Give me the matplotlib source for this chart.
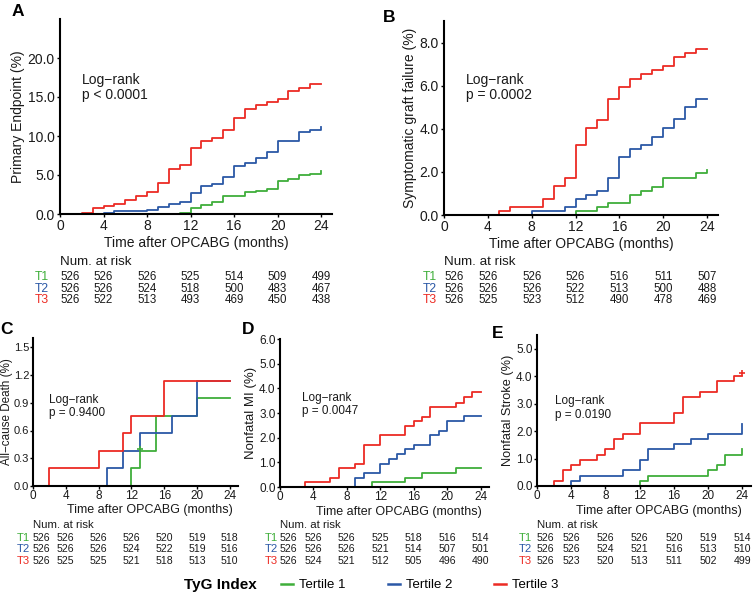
import matplotlib
matplotlib.use("Agg")
import matplotlib.pyplot as plt
from matplotlib.lines import Line2D
from matplotlib.transforms import blended_transform_factory

plt.rcParams['font.family'] = ['Liberation Sans', 'DejaVu Sans']

GREEN = '#3fae3a'
BLUE = '#2b58a6'
RED = '#ec2b24'
TXT = '#1a1a1a'

months = [0, 4, 8, 12, 16, 20, 24]
groups = ['T1', 'T2', 'T3']
legend_labels = ['Tertile 1', 'Tertile 2', 'Tertile 3']

# ---- A: primary endpoint (%)
a_t1_t = [0, 11, 12, 13, 14, 15, 17, 18, 19, 20, 21, 22, 23, 24]
a_t1_y = [0, 0.19, 0.77, 1.2, 1.6, 2.3, 2.8, 3.0, 3.2, 4.2, 4.5, 4.95, 5.15, 5.45]
a_t2_t = [0, 4, 5, 8, 9, 10, 11, 12, 13, 14, 15, 16, 17, 18, 19, 20, 21, 22, 23, 24]
a_t2_y = [0, 0.19, 0.35, 0.55, 0.9, 1.3, 1.55, 2.7, 3.65, 3.9, 4.7, 6.1, 6.5, 7.2, 8.0, 9.3, 9.4, 10.5, 10.8, 11.1]
a_t3_t = [0, 2, 3, 4, 5, 6, 7, 8, 9, 10, 11, 12, 13, 14, 15, 16, 17, 18, 19, 20, 21, 22, 23, 24]
a_t3_y = [0, 0.19, 0.77, 1.0, 1.3, 1.75, 2.3, 2.8, 4.0, 5.75, 6.3, 8.5, 9.3, 9.7, 10.8, 12.3, 13.4, 14.0,
          14.4, 14.8, 15.8, 16.2, 16.7, 16.7]
a_risk_t1 = [526, 526, 526, 525, 514, 509, 499]
a_risk_t2 = [526, 526, 524, 518, 500, 483, 467]
a_risk_t3 = [526, 522, 513, 493, 469, 450, 438]

# ---- B: symptomatic graft failure (%)
b_t1_t = [0, 12, 14, 15, 17, 18, 19, 20, 23, 24]
b_t1_y = [0, 0.19, 0.39, 0.57, 0.94, 1.13, 1.32, 1.72, 1.94, 2.09]
b_t2_t = [0, 8, 11, 12, 13, 14, 15, 16, 17, 18, 19, 20, 21, 22, 23, 24]
b_t2_y = [0, 0.19, 0.39, 0.76, 0.94, 1.13, 1.72, 2.68, 3.05, 3.27, 3.64, 4.02, 4.44, 5.0, 5.39, 5.39]
b_t3_t = [0, 5, 6, 9, 10, 11, 12, 13, 14, 15, 16, 17, 18, 19, 20, 21, 22, 23, 24]
b_t3_y = [0, 0.19, 0.39, 0.76, 1.35, 1.73, 3.27, 4.04, 4.41, 5.39, 5.96, 6.33, 6.55, 6.73, 6.92, 7.32,
          7.51, 7.72, 7.72]
b_risk_t1 = [526, 526, 526, 526, 516, 511, 507]
b_risk_t2 = [526, 526, 526, 522, 513, 500, 488]
b_risk_t3 = [526, 525, 523, 512, 490, 478, 469]

# ---- C: all-cause death (%)
c_t1_t = [0, 12, 13, 15, 20, 24]
c_t1_y = [0, 0.19, 0.38, 0.76, 0.95, 0.95]
c_t2_t = [0, 9, 11, 13, 17, 20, 24]
c_t2_y = [0, 0.19, 0.38, 0.57, 0.76, 1.14, 1.14]
c_t3_t = [0, 2, 8, 11, 12, 16, 24]
c_t3_y = [0, 0.19, 0.38, 0.57, 0.76, 1.14, 1.14]
c_cens_t1 = ([13], [0.40])
c_risk_t1 = [526, 526, 526, 526, 520, 519, 518]
c_risk_t2 = [526, 526, 526, 524, 522, 519, 516]
c_risk_t3 = [526, 525, 525, 521, 518, 513, 510]

# ---- D: nonfatal MI (%)
d_t1_t = [0, 11, 15, 17, 21, 24]
d_t1_y = [0, 0.19, 0.38, 0.57, 0.76, 0.76]
d_t2_t = [0, 9, 10, 12, 13, 14, 15, 16, 18, 19, 20, 22, 24]
d_t2_y = [0, 0.38, 0.57, 0.95, 1.14, 1.33, 1.53, 1.72, 2.1, 2.29, 2.67, 2.87, 2.87]
d_t3_t = [0, 3, 6, 7, 9, 10, 12, 15, 16, 17, 18, 21, 22, 23, 24]
d_t3_y = [0, 0.19, 0.38, 0.76, 0.95, 1.71, 2.1, 2.47, 2.66, 2.85, 3.23, 3.42, 3.63, 3.85, 3.85]
d_risk_t1 = [526, 526, 526, 525, 518, 516, 514]
d_risk_t2 = [526, 526, 526, 521, 514, 507, 501]
d_risk_t3 = [526, 524, 521, 512, 505, 496, 490]

# ---- E: nonfatal stroke (%)
e_t1_t = [0, 12, 13, 20, 21, 22, 24]
e_t1_y = [0, 0.19, 0.38, 0.57, 0.76, 1.14, 1.33]
e_t2_t = [0, 4, 5, 10, 12, 13, 16, 18, 20, 24]
e_t2_y = [0, 0.19, 0.38, 0.57, 0.95, 1.33, 1.52, 1.72, 1.9, 2.27]
e_t3_t = [0, 2, 3, 4, 5, 7, 8, 9, 10, 12, 16, 17, 19, 21, 23, 24]
e_t3_y = [0, 0.19, 0.57, 0.76, 0.95, 1.14, 1.33, 1.72, 1.9, 2.28, 2.66, 3.25, 3.44, 3.82, 4.01, 4.01]
e_cens_t3 = ([24], [4.1])
e_risk_t1 = [526, 526, 526, 526, 520, 519, 514]
e_risk_t2 = [526, 526, 524, 521, 516, 513, 510]
e_risk_t3 = [526, 523, 520, 513, 511, 502, 499]

W, H = 753, 594
fig = plt.figure(figsize=(W / 100, H / 100), dpi=100)


def px_axes(l, r, b, t):
    return fig.add_axes([l / W, 1 - b / H, (r - l) / W, (b - t) / H])


def km_panel(ax, curves, ylim, yticks, ylabel, fs, letter, letter_xy, note, note_xy):
    for (t, y), col in zip(curves, [GREEN, BLUE, RED]):
        ax.step(t, y, where='post', color=col, lw=1.3, zorder=2)
    ax.set_xlim(0, 25)
    ax.set_ylim(*ylim)
    ax.set_xticks(months)
    ax.set_yticks(yticks)
    ax.set_yticklabels([f'{v:.1f}' for v in yticks])
    for s in ['top', 'right']:
        ax.spines[s].set_visible(False)
    for s in ['left', 'bottom']:
        ax.spines[s].set_linewidth(1.5)
        ax.spines[s].set_zorder(3)
    ax.tick_params(length=2.2, width=1, labelsize=fs, colors='black', labelcolor=TXT, pad=1.5)
    ax.set_ylabel(ylabel, fontsize=fs, color=TXT, labelpad=2)
    ax.set_xlabel('Time after OPCABG (months)', fontsize=fs, color=TXT)
    ax.text(note_xy[0], note_xy[1], 'Log\u2212rank\n' + note, fontsize=fs, color=TXT,
            va='top', ha='left', linespacing=1.15)
    fig.text(letter_xy[0] / W, 1 - letter_xy[1] / H, letter, fontsize=12.5,
             fontweight='bold', ha='left', va='center')


def risk_table(ax, rows, tlabel_right, ys, fs, head_fs):
    tr = blended_transform_factory(ax.transData, fig.transFigure)
    fig.text(ax.get_position().x0, 1 - ys[0] / H, 'Num. at risk', fontsize=head_fs,
             color=TXT, ha='left', va='center')
    for vals, g, col, y in zip(rows, groups, [GREEN, BLUE, RED], ys[1:]):
        fig.text(tlabel_right / W, 1 - y / H, g, fontsize=fs + 0.5, color=col, ha='right', va='center')
        for i, (m, v) in enumerate(zip(months, vals)):
            ax.text(m, 1 - y / H, str(v), transform=tr, fontsize=fs, color=TXT,
                    ha='left' if i == 0 else 'center', va='center', clip_on=False)


# top row
axA = px_axes(60, 332, 214, 19)
km_panel(axA, [(a_t1_t, a_t1_y), (a_t2_t, a_t2_y), (a_t3_t, a_t3_y)], (0, 25),
         [0, 5, 10, 15, 20], 'Primary Endpoint (%)', 10, 'A', (12, 12),
         'p < 0.0001', (2.0, 18.1))
axA.xaxis.labelpad = 2
risk_table(axA, [a_risk_t1, a_risk_t2, a_risk_t3], 49, [262, 277, 288.7, 300.4], 8.3, 9.6)

axB = px_axes(444, 718, 215, 21)
km_panel(axB, [(b_t1_t, b_t1_y), (b_t2_t, b_t2_y), (b_t3_t, b_t3_y)], (0, 9),
         [0, 2, 4, 6, 8], 'Symptomatic graft failure (%)', 10, 'B', (383, 17),
         'p = 0.0002', (2.0, 6.6))
axB.xaxis.labelpad = 2
risk_table(axB, [b_risk_t1, b_risk_t2, b_risk_t3], 437, [262, 277, 288.7, 300.4], 8.3, 9.6)

# bottom row
axC = px_axes(33, 238, 486, 338)
km_panel(axC, [(c_t1_t, c_t1_y), (c_t2_t, c_t2_y), (c_t3_t, c_t3_y)], (0, 1.6),
         [0, 0.3, 0.6, 0.9, 1.2, 1.5], 'All\u2212cause Death (%)', 8.5, 'C', (0, 329),
         'p = 0.9400', (2.0, 1.0))
axC.plot(*c_cens_t1, marker='+', ms=5, color=GREEN, ls='none', mew=1.2)

axD = px_axes(280, 489, 487, 339)
km_panel(axD, [(d_t1_t, d_t1_y), (d_t2_t, d_t2_y), (d_t3_t, d_t3_y)], (0, 6),
         [0, 1, 2, 3, 4, 5, 6], 'Nonfatal MI (%)', 8.5, 'D', (242, 330),
         'p = 0.0047', (2.6, 3.85))

axE = px_axes(537, 751, 486, 335)
km_panel(axE, [(e_t1_t, e_t1_y), (e_t2_t, e_t2_y), (e_t3_t, e_t3_y)], (0, 5.5),
         [0, 1, 2, 3, 4, 5], 'Nonfatal Stroke (%)', 8.5, 'E', (492, 334),
         'p = 0.0190', (2.1, 3.3))
axE.plot(*e_cens_t3, marker='+', ms=5, color=RED, ls='none', mew=1.2)

for ax in (axC, axD, axE):
    ax.tick_params(pad=1)
    ax.set_xlabel('Time after OPCABG (months)', fontsize=9, color=TXT)
    ax.xaxis.set_label_coords(0.57, -0.125)

# C sits at the left edge: keep its label inside the figure
axC.tick_params(axis='y', labelsize=8, pad=0.5)
axC.set_ylabel('All\u2212cause Death (%)', fontsize=8.4, color=TXT)
axC.yaxis.set_label_coords(-0.096, 0.5)
axD.set_ylabel('Nonfatal MI (%)', fontsize=9.5, color=TXT, labelpad=1.5)
axE.set_ylabel('Nonfatal Stroke (%)', fontsize=9.2, color=TXT, labelpad=1.5)

risk_table(axC, [c_risk_t1, c_risk_t2, c_risk_t3], 30, [525, 538, 549.5, 561], 7.6, 8.2)
risk_table(axD, [d_risk_t1, d_risk_t2, d_risk_t3], 278, [525, 538, 549.5, 561], 7.6, 8.2)
risk_table(axE, [e_risk_t1, e_risk_t2, e_risk_t3], 532, [525, 538, 549.5, 561], 7.6, 8.2)

# legend
fig.text(257 / W, 1 - 585 / H, 'TyG Index', fontsize=11, fontweight='bold', ha='right', va='center')
handles = [Line2D([], [], color=c, lw=1.8) for c in (GREEN, BLUE, RED)]
fig.legend(handles, legend_labels, ncol=3, frameon=False, fontsize=9.5,
           loc='center left', bbox_to_anchor=(276 / W, 1 - 585 / H),
           handlelength=0.9, handletextpad=0.45, columnspacing=3.2, borderaxespad=0)

fig.savefig('out.png', dpi=100)
